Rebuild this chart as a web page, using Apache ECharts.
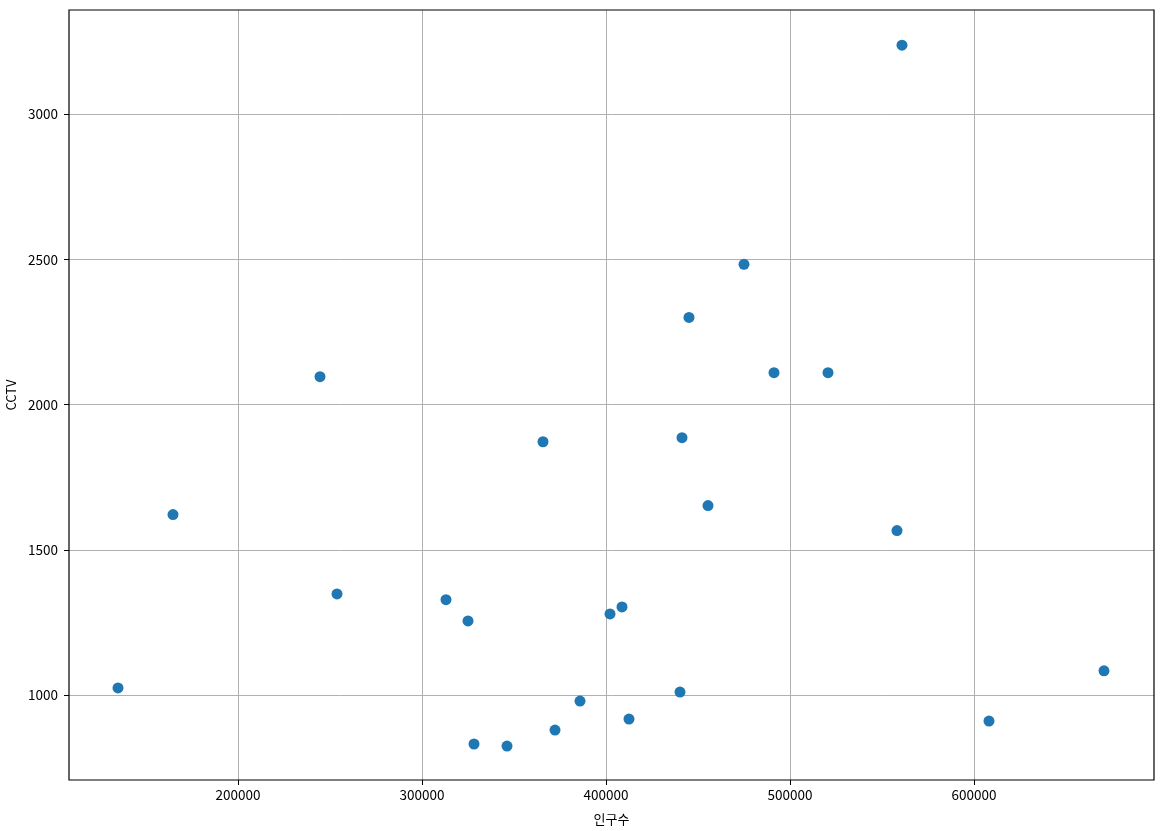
<!DOCTYPE html>
<html>
<head>
<meta charset="utf-8">
<script src="https://cdn.jsdelivr.net/npm/echarts@6/dist/echarts.min.js"></script>
<style>html,body{margin:0;padding:0;background:#fff}#c{width:1163px;height:831px}</style>
</head>
<body>
<div id="c"></div>
<script>
const population = [560870, 475000, 445109, 491304, 520652, 244565, 365761, 441304, 455435, 164674, 558152, 253804, 313043, 325000, 408696, 402174, 134783, 670652, 440217, 385870, 412500, 608152, 372283, 328261, 346196];
const cctv = [3238, 2483, 2300, 2110, 2110, 2096, 1872, 1886, 1652, 1621, 1566, 1348, 1328, 1255, 1303, 1279, 1024, 1083, 1010, 979, 917, 910, 879, 831, 824];
const xTicks = [200000, 300000, 400000, 500000, 600000];
const yTicks = [1000, 1500, 2000, 2500, 3000];
const xName = '인구수';
const yName = 'CCTV';

const font = '"Noto Sans CJK KR", "Noto Sans", sans-serif';
const chart = echarts.init(document.getElementById('c'), null, {renderer: 'canvas'});
const pts = population.map((p, i) => [p, cctv[i]]);
const plain = v => String(v);
chart.setOption({
  animation: false,
  grid: {left: 69, top: 10, right: 9, bottom: 51, show: true, borderColor: '#000', borderWidth: 1.2, z: 10, containLabel: false, outerBoundsMode: 'none'},
  xAxis: {
    type: 'value', min: 108150, max: 697830, name: xName, nameLocation: 'middle', nameGap: 33,
    nameTextStyle: {fontFamily: font, fontSize: 13, color: '#000'},
    axisLine: {show: false},
    axisTick: {show: true, length: 5, lineStyle: {color: '#000'}, customValues: xTicks},
    axisLabel: {fontFamily: font, fontSize: 13.5, color: '#000', margin: 8, customValues: xTicks, formatter: plain},
    splitLine: {show: true, lineStyle: {color: '#b0b0b0', width: 1}, customValues: xTicks}
  },
  yAxis: {
    type: 'value', min: 707, max: 3359, name: yName, nameLocation: 'middle', nameGap: 48,
    nameTextStyle: {fontFamily: font, fontSize: 13, color: '#000'},
    axisLine: {show: false},
    axisTick: {show: true, length: 5, lineStyle: {color: '#000'}, customValues: yTicks},
    axisLabel: {fontFamily: font, fontSize: 13.5, color: '#000', margin: 11, customValues: yTicks, formatter: plain},
    splitLine: {show: true, lineStyle: {color: '#b0b0b0', width: 1}, customValues: yTicks}
  },
  series: [{
    type: 'scatter', data: pts, symbolSize: 11,
    itemStyle: {color: '#1f77b4', opacity: 1}
  }]
});
</script>
</body>
</html>
